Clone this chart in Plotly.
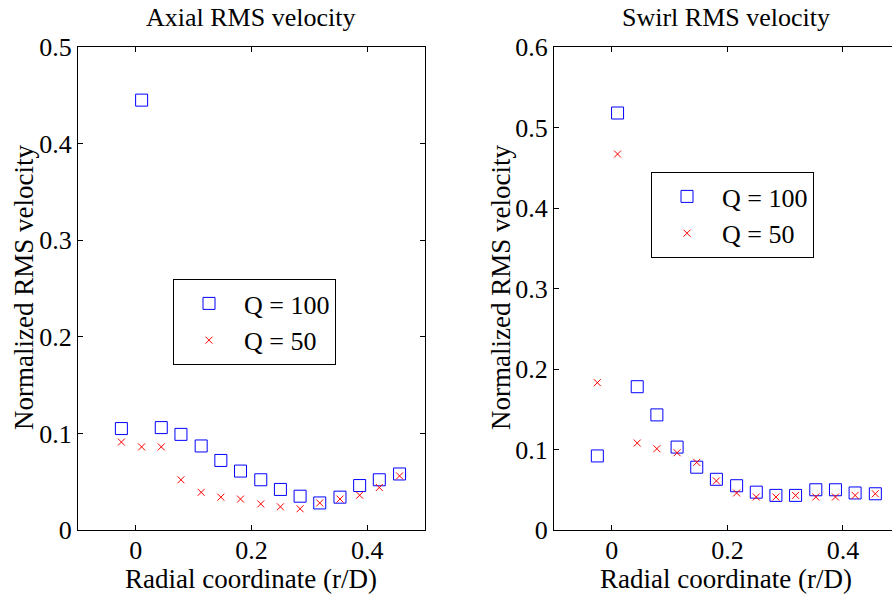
import plotly.graph_objects as go

# Data
r_over_D = [-0.025, 0.010, 0.044, 0.078, 0.113, 0.147, 0.181, 0.216,
            0.250, 0.284, 0.318, 0.353, 0.387, 0.421, 0.456]

axial_q100 = [0.105, 0.445, 0.106, 0.099, 0.087, 0.072, 0.061, 0.052,
              0.042, 0.035, 0.028, 0.034, 0.046, 0.052, 0.058]
axial_q50 = [0.091, 0.086, 0.086, 0.052, 0.039, 0.034, 0.032, 0.027,
             0.024, 0.022, 0.028, 0.032, 0.036, 0.044, 0.056]

swirl_q100 = [0.092, 0.518, 0.178, 0.143, 0.103, 0.078, 0.063, 0.055,
              0.047, 0.043, 0.043, 0.050, 0.050, 0.046, 0.045]
swirl_q50 = [0.183, 0.467, 0.108, 0.101, 0.096, 0.084, 0.061, 0.046,
             0.041, 0.041, 0.043, 0.041, 0.041, 0.043, 0.045]

series_names = ["Q = 100", "Q = 50"]
panel_titles = ["Axial RMS velocity", "Swirl RMS velocity"]
x_title = "Radial coordinate (r/D)"
y_title = "Normalized RMS velocity"

FONT = "Liberation Serif"
W, H = 892, 598

fig = go.Figure()

sq = dict(symbol="square-open", size=12, color="#0000ff", line=dict(width=1, color="#0000ff"))
xx = dict(symbol="x-thin-open", size=7, color="#ff0000", line=dict(width=1, color="#ff0000"))

fig.add_trace(go.Scatter(x=r_over_D, y=axial_q100, mode="markers", marker=sq,
                         name=series_names[0], xaxis="x", yaxis="y", legend="legend"))
fig.add_trace(go.Scatter(x=r_over_D, y=axial_q50, mode="markers", marker=xx,
                         name=series_names[1], xaxis="x", yaxis="y", legend="legend"))
fig.add_trace(go.Scatter(x=r_over_D, y=swirl_q100, mode="markers", marker=sq,
                         name=series_names[0], xaxis="x2", yaxis="y2", legend="legend2"))
fig.add_trace(go.Scatter(x=r_over_D, y=swirl_q50, mode="markers", marker=xx,
                         name=series_names[1], xaxis="x2", yaxis="y2", legend="legend2"))

ydom = [(H - 530) / H, (H - 47) / H]
axcommon = dict(showgrid=False, zeroline=False, showline=True, linecolor="black", linewidth=1,
                ticks="inside", ticklen=5, tickcolor="black", automargin=False,
                tickfont=dict(family=FONT, size=26, color="black"))

legend_style = dict(xanchor="left", yanchor="middle",
                    bordercolor="black", borderwidth=1, bgcolor="white",
                    font=dict(family=FONT, size=26, color="black"), itemwidth=60,
                    tracegroupgap=0)

fig.update_layout(
    width=W, height=H,
    margin=dict(l=0, r=0, t=0, b=0, autoexpand=False),
    paper_bgcolor="white", plot_bgcolor="white",
    font=dict(family=FONT, color="black"),
    xaxis=dict(domain=[78 / W, 425 / W], range=[-0.1, 0.5], dtick=0.2, tick0=0,
               mirror="ticks", anchor="y", ticklabelstandoff=-3, **axcommon),
    yaxis=dict(domain=ydom, range=[0, 0.5], dtick=0.1, tick0=0,
               mirror="ticks", anchor="x", **axcommon),
    xaxis2=dict(domain=[554 / W, 1.0], range=[-0.1, (892 - 612) / 577.5], dtick=0.2, tick0=0,
                mirror="ticks", anchor="y2", ticklabelstandoff=-3, **axcommon),
    yaxis2=dict(domain=ydom, range=[0, 0.6], dtick=0.1, tick0=0,
                mirror=False, anchor="x2", **axcommon),
    legend=dict(x=173 / W, y=1 - 322 / H, **legend_style),
    legend2=dict(x=651 / W, y=1 - 215 / H, **legend_style),
    showlegend=True,
)

for txt, cx in [(panel_titles[0], 251), (panel_titles[1], 726)]:
    fig.add_annotation(text=txt, x=cx / W, y=1 - 18 / H, xref="paper", yref="paper",
                       xanchor="center", yanchor="middle", showarrow=False,
                       font=dict(family=FONT, size=26, color="black"))
for cx in [251, 726]:
    fig.add_annotation(text=x_title, x=cx / W, y=3 / H, xref="paper", yref="paper",
                       xanchor="center", yanchor="bottom", showarrow=False, borderpad=0,
                       font=dict(family=FONT, size=27, color="black"))
for cx in [24, 501]:
    fig.add_annotation(text=y_title, x=cx / W, y=1 - 288 / H, xref="paper", yref="paper",
                       xanchor="center", yanchor="middle", showarrow=False, textangle=-90,
                       font=dict(family=FONT, size=27, color="black"))

fig.write_html("out.html")
